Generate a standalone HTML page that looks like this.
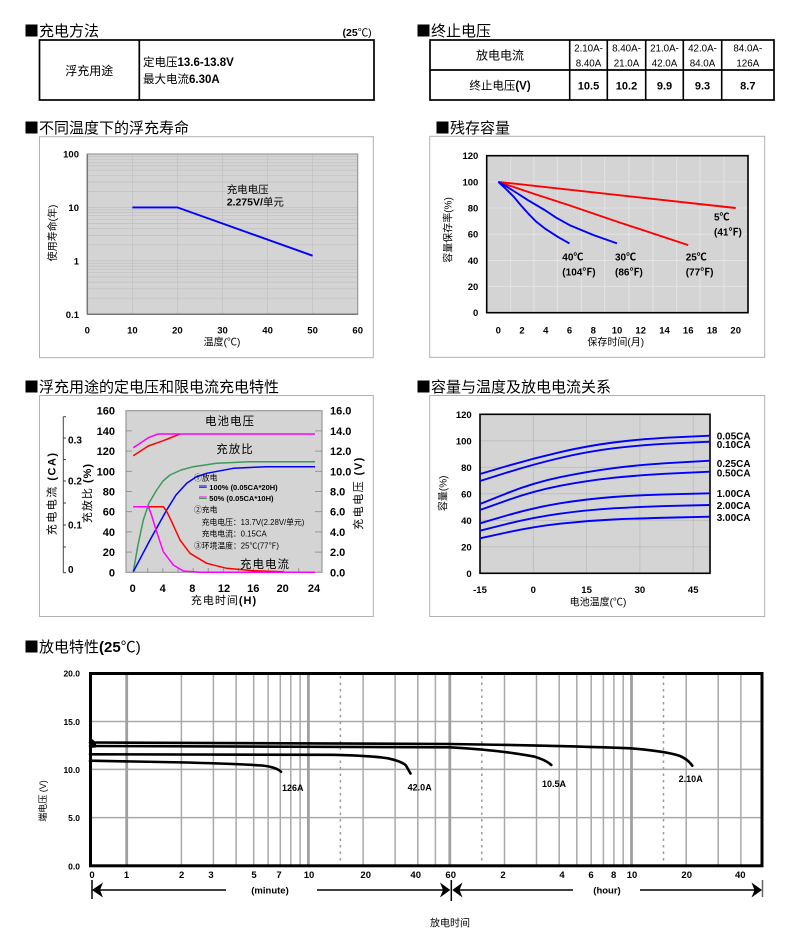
<!DOCTYPE html>
<html><head><meta charset="utf-8"><style>
html,body{margin:0;padding:0;background:#fff;}
svg{display:block;}
text{font-family:"Liberation Sans","Noto Sans CJK SC",sans-serif;fill:#000;}
.b{font-weight:bold;}
.sq{font-family:"Noto Sans CJK SC","WenQuanYi Zen Hei",sans-serif;}
</style></head><body>
<svg width="788" height="945" viewBox="0 0 788 945" xmlns="http://www.w3.org/2000/svg">
<rect width="788" height="945" fill="#fff"/>

<!-- ===== Titles ===== -->
<text x="24" y="36" font-size="15"><tspan class="sq">■</tspan>充电方法</text>
<text x="371.7" y="36" font-size="10.5" text-anchor="end"><tspan class="b">(25</tspan>℃)</text>
<text x="416" y="36" font-size="15"><tspan class="sq">■</tspan>终止电压</text>
<text x="24" y="133" font-size="15"><tspan class="sq">■</tspan>不同温度下的浮充寿命</text>
<text x="435" y="133" font-size="15"><tspan class="sq">■</tspan>残存容量</text>
<text x="24" y="392" font-size="15"><tspan class="sq">■</tspan>浮充用途的定电压和限电流充电特性</text>
<text x="416" y="392" font-size="15"><tspan class="sq">■</tspan>容量与温度及放电电流关系</text>
<text x="24" y="652" font-size="15"><tspan class="sq">■</tspan>放电特性<tspan class="b">(25</tspan>℃)</text>

<!-- ===== Table 1 ===== -->
<rect x="39.5" y="40" width="334.5" height="60" fill="none" stroke="#000" stroke-width="1.7"/>
<line x1="139.3" y1="40" x2="139.3" y2="100" stroke="#000" stroke-width="1.7"/>
<text x="89.3" y="75" font-size="12" text-anchor="middle">浮充用途</text>
<text x="143" y="66" font-size="11.5">定电压<tspan class="b">13.6-13.8V</tspan></text>
<text x="143" y="83" font-size="11.5">最大电流<tspan class="b">6.30A</tspan></text>

<!-- ===== Table 2 ===== -->
<rect x="430" y="40" width="344" height="60" fill="none" stroke="#000" stroke-width="1.7"/>
<line x1="430" y1="70" x2="774" y2="70" stroke="#000" stroke-width="1.7"/>
<g stroke="#000" stroke-width="1.6">
<line x1="569.7" y1="40" x2="569.7" y2="100"/>
<line x1="607.3" y1="40" x2="607.3" y2="100"/>
<line x1="645.7" y1="40" x2="645.7" y2="100"/>
<line x1="683.3" y1="40" x2="683.3" y2="100"/>
<line x1="721.7" y1="40" x2="721.7" y2="100"/>
</g>
<text x="500" y="59.5" font-size="12" text-anchor="middle">放电电流</text>
<g font-size="9.8" text-anchor="middle">
<text x="588.5" y="51.5">2.10A-</text><text x="588.5" y="66.5">8.40A</text>
<text x="626.5" y="51.5">8.40A-</text><text x="626.5" y="66.5">21.0A</text>
<text x="664.5" y="51.5">21.0A-</text><text x="664.5" y="66.5">42.0A</text>
<text x="702.5" y="51.5">42.0A-</text><text x="702.5" y="66.5">84.0A</text>
<text x="747.8" y="51.5">84.0A-</text><text x="747.8" y="66.5">126A</text>
</g>
<text x="500" y="89.5" font-size="11.5" text-anchor="middle">终止电压<tspan class="b">(V)</tspan></text>
<g font-size="11" class="b" text-anchor="middle">
<text x="588.5" y="89.5">10.5</text>
<text x="626.5" y="89.5">10.2</text>
<text x="664.5" y="89.5">9.9</text>
<text x="702.5" y="89.5">9.3</text>
<text x="747.8" y="89.5">8.7</text>
</g>

<!-- ===== Float life chart ===== -->
<rect x="39.5" y="136.7" width="333.8" height="221" fill="none" stroke="#b0b0b0" stroke-width="1"/>
<rect x="87.3" y="154" width="270.4" height="160.3" fill="#d4d4d4"/>
<g stroke="#c0c0c0" stroke-width="0.7">
<line x1="87.3" x2="357.7" y1="298.2" y2="298.2"/><line x1="87.3" x2="357.7" y1="288.8" y2="288.8"/>
<line x1="87.3" x2="357.7" y1="282.1" y2="282.1"/><line x1="87.3" x2="357.7" y1="277.0" y2="277.0"/>
<line x1="87.3" x2="357.7" y1="272.7" y2="272.7"/><line x1="87.3" x2="357.7" y1="269.2" y2="269.2"/>
<line x1="87.3" x2="357.7" y1="266.1" y2="266.1"/><line x1="87.3" x2="357.7" y1="263.3" y2="263.3"/>
<line x1="87.3" x2="357.7" y1="260.9" y2="260.9"/>
<line x1="87.3" x2="357.7" y1="244.8" y2="244.8"/><line x1="87.3" x2="357.7" y1="235.4" y2="235.4"/>
<line x1="87.3" x2="357.7" y1="228.7" y2="228.7"/><line x1="87.3" x2="357.7" y1="223.5" y2="223.5"/>
<line x1="87.3" x2="357.7" y1="219.3" y2="219.3"/><line x1="87.3" x2="357.7" y1="215.7" y2="215.7"/>
<line x1="87.3" x2="357.7" y1="212.6" y2="212.6"/><line x1="87.3" x2="357.7" y1="209.9" y2="209.9"/>
<line x1="87.3" x2="357.7" y1="207.4" y2="207.4"/>
<line x1="87.3" x2="357.7" y1="191.4" y2="191.4"/><line x1="87.3" x2="357.7" y1="182.0" y2="182.0"/>
<line x1="87.3" x2="357.7" y1="175.3" y2="175.3"/><line x1="87.3" x2="357.7" y1="170.1" y2="170.1"/>
<line x1="87.3" x2="357.7" y1="165.9" y2="165.9"/><line x1="87.3" x2="357.7" y1="162.3" y2="162.3"/>
<line x1="87.3" x2="357.7" y1="159.2" y2="159.2"/><line x1="87.3" x2="357.7" y1="156.5" y2="156.5"/>
<line x1="132.4" x2="132.4" y1="154" y2="314.3"/><line x1="177.4" x2="177.4" y1="154" y2="314.3"/>
<line x1="222.5" x2="222.5" y1="154" y2="314.3"/><line x1="267.6" x2="267.6" y1="154" y2="314.3"/>
<line x1="312.6" x2="312.6" y1="154" y2="314.3"/>
</g>
<rect x="87.3" y="154" width="270.4" height="160.3" fill="none" stroke="#999" stroke-width="1.2"/>
<line x1="87.3" y1="154" x2="87.3" y2="314.3" stroke="#777" stroke-width="1.5"/>
<line x1="87.3" y1="314.3" x2="357.7" y2="314.3" stroke="#777" stroke-width="1.5"/>
<polyline points="132.4,207.4 177.4,207.4 312.6,255.7" fill="none" stroke="#0000ff" stroke-width="1.9"/>
<text x="226.7" y="193" font-size="10.5">充电电压</text>
<text x="226.7" y="205.5" font-size="10.5"><tspan class="b">2.275V/</tspan>单元</text>
<g font-size="9.5" class="b" text-anchor="end">
<text x="79" y="157.5">100</text><text x="79" y="211">10</text>
<text x="79" y="264.4">1</text><text x="79" y="317.8">0.1</text>
</g>
<g font-size="9.5" class="b" text-anchor="middle">
<text x="87.3" y="333.5">0</text><text x="132.4" y="333.5">10</text><text x="177.4" y="333.5">20</text>
<text x="222.5" y="333.5">30</text><text x="267.6" y="333.5">40</text><text x="312.6" y="333.5">50</text>
<text x="357.7" y="333.5">60</text>
</g>
<text x="222" y="345.5" font-size="10" text-anchor="middle">温度(℃)</text>
<text transform="translate(56,233) rotate(-90)" font-size="10" text-anchor="middle">使用寿命(年)</text>

<!-- ===== Residual capacity ===== -->
<rect x="429.7" y="136.3" width="335" height="221" fill="none" stroke="#b0b0b0" stroke-width="1"/>
<rect x="486.7" y="155.7" width="261.3" height="157" fill="#d4d4d4"/>
<g stroke="#e6e6e6" stroke-width="0.8">
<line x1="510.7" x2="510.7" y1="155.7" y2="312.7"/><line x1="534" x2="534" y1="155.7" y2="312.7"/>
<line x1="557.3" x2="557.3" y1="155.7" y2="312.7"/><line x1="581.3" x2="581.3" y1="155.7" y2="312.7"/>
<line x1="604.7" x2="604.7" y1="155.7" y2="312.7"/><line x1="629" x2="629" y1="155.7" y2="312.7"/>
<line x1="653" x2="653" y1="155.7" y2="312.7"/><line x1="676.7" x2="676.7" y1="155.7" y2="312.7"/>
<line x1="700" x2="700" y1="155.7" y2="312.7"/><line x1="724" x2="724" y1="155.7" y2="312.7"/>
<line x1="486.7" x2="748" y1="286.5" y2="286.5"/><line x1="486.7" x2="748" y1="260.4" y2="260.4"/>
<line x1="486.7" x2="748" y1="234.2" y2="234.2"/><line x1="486.7" x2="748" y1="208.0" y2="208.0"/>
<line x1="486.7" x2="748" y1="181.9" y2="181.9"/>
</g>
<rect x="486.7" y="155.7" width="261.3" height="157" fill="none" stroke="#000" stroke-width="1.6"/>
<g fill="none" stroke-width="1.9" stroke-linejoin="round">
<polyline stroke="#ff0000" points="498.3,181.9 735.7,208.0"/>
<polyline stroke="#ff0000" points="498.3,181.9 533,193.5 569.5,205.4 617,221.6 688.2,245.1"/>
<polyline stroke="#0000ff" points="498.3,181.9 505,185.5 513.7,191.0 528,200.2 544.6,210.0 556,217.6 569.5,225.1 593.3,235.0 617,243.4"/>
<polyline stroke="#0000ff" points="498.3,181.9 505,188 513.7,196.7 521,205.5 528,213.3 536,221.5 544.6,228.3 557.7,236.8 569.5,243.4"/>
</g>
<g font-size="10" class="b">
<text x="714" y="220.5">5℃</text><text x="714" y="235.5">(41℉)</text>
<text x="562.3" y="260.5">40℃</text><text x="562.3" y="275.5">(104℉)</text>
<text x="615" y="260.5">30℃</text><text x="615" y="275.5">(86℉)</text>
<text x="685.7" y="260.5">25℃</text><text x="685.7" y="275.5">(77℉)</text>
</g>
<g font-size="9.5" class="b" text-anchor="end">
<text x="478.3" y="159.2">120</text><text x="478.3" y="185.4">100</text><text x="478.3" y="211.5">80</text>
<text x="478.3" y="237.7">60</text><text x="478.3" y="263.9">40</text><text x="478.3" y="290">20</text>
<text x="478.3" y="316.2">0</text>
</g>
<g font-size="9.5" class="b" text-anchor="middle">
<text x="498.3" y="333.5">0</text><text x="522" y="333.5">2</text><text x="545.8" y="333.5">4</text>
<text x="569.5" y="333.5">6</text><text x="593.3" y="333.5">8</text><text x="617" y="333.5">10</text>
<text x="640.7" y="333.5">12</text><text x="664.5" y="333.5">14</text><text x="688.2" y="333.5">16</text>
<text x="712" y="333.5">18</text><text x="735.7" y="333.5">20</text>
</g>
<text x="615.7" y="345.5" font-size="10" text-anchor="middle">保存时间(月)</text>
<text transform="translate(451.5,230) rotate(-90)" font-size="10" text-anchor="middle">容量保存率(%)</text>

<!-- ===== Charge characteristics ===== -->
<rect x="39.5" y="395.5" width="333.8" height="221" fill="none" stroke="#b0b0b0" stroke-width="1"/>
<rect x="126" y="410.7" width="196" height="161.6" fill="#d4d4d4"/>
<rect x="126" y="410.7" width="196" height="161.6" fill="none" stroke="#999" stroke-width="1.2"/>
<g stroke="#888" stroke-width="0.8">
<line x1="126" x2="132" y1="430.9" y2="430.9"/><line x1="126" x2="132" y1="451.1" y2="451.1"/>
<line x1="126" x2="132" y1="471.3" y2="471.3"/><line x1="126" x2="132" y1="491.5" y2="491.5"/>
<line x1="126" x2="132" y1="511.7" y2="511.7"/><line x1="126" x2="132" y1="531.9" y2="531.9"/>
<line x1="126" x2="132" y1="552.1" y2="552.1"/>
<line x1="315" x2="322" y1="430.9" y2="430.9"/><line x1="315" x2="322" y1="451.1" y2="451.1"/>
<line x1="315" x2="322" y1="471.3" y2="471.3"/><line x1="315" x2="322" y1="491.5" y2="491.5"/>
<line x1="315" x2="322" y1="511.7" y2="511.7"/><line x1="315" x2="322" y1="531.9" y2="531.9"/>
<line x1="315" x2="322" y1="552.1" y2="552.1"/>
<line x1="147.8" x2="147.8" y1="568" y2="572.3"/><line x1="162.9" x2="162.9" y1="568" y2="572.3"/>
<line x1="178" x2="178" y1="568" y2="572.3"/><line x1="193.1" x2="193.1" y1="568" y2="572.3"/>
<line x1="208.2" x2="208.2" y1="568" y2="572.3"/><line x1="223.3" x2="223.3" y1="568" y2="572.3"/>
<line x1="238.4" x2="238.4" y1="568" y2="572.3"/><line x1="253.5" x2="253.5" y1="568" y2="572.3"/>
<line x1="268.6" x2="268.6" y1="568" y2="572.3"/><line x1="283.7" x2="283.7" y1="568" y2="572.3"/>
<line x1="298.8" x2="298.8" y1="568" y2="572.3"/>
</g>
<!-- CA axis -->
<line x1="63.3" y1="416.7" x2="63.3" y2="572.7" stroke="#444" stroke-width="1"/>
<g stroke="#444" stroke-width="1">
<line x1="63.3" x2="66" y1="416.7" y2="416.7"/><line x1="63.3" x2="66" y1="438" y2="438"/>
<line x1="63.3" x2="66" y1="459.5" y2="459.5"/><line x1="63.3" x2="66" y1="481" y2="481"/>
<line x1="63.3" x2="66" y1="503" y2="503"/><line x1="63.3" x2="66" y1="525" y2="525"/>
<line x1="63.3" x2="66" y1="547" y2="547"/><line x1="63.3" x2="66" y1="572.7" y2="572.7"/>
</g>
<g font-size="10" class="b">
<text x="68" y="443.5">0.3</text><text x="68" y="484.5">0.2</text>
<text x="68" y="528.5">0.1</text><text x="68" y="573">0</text>
</g>
<!-- curves -->
<g fill="none" stroke-width="1.5" stroke-linejoin="round">
<polyline stroke="#3a9a5a" points="133.3,571.7 138,545 143.3,520 149,503 156.7,490 163,481 170,475 181,470 193.3,466.7 216.7,463.3 250,461.7 315,461.7"/>
<polyline stroke="#0000ff" points="133.3,571.7 150,540 166.7,510 176,495 186.7,483.3 196,477 206.7,473.3 233.3,468.3 266.7,466.7 315,466.7"/>
<polyline stroke="#ff0000" points="133.3,506.7 163.3,506.7 167,512 171.7,521.7 180,540 190,553.3 206.7,563.3 226.7,568.3 253.3,570.7 283.3,571.7"/>
<polyline stroke="#ff00ff" points="133.3,506.7 148.3,506.7 151.5,515 155,526.7 163.3,551.7 173.3,565 183.3,571 200,572.3 315,572.3"/>
<polyline stroke="#ff0000" points="133.3,455.7 148.3,446 163.3,440.7 180,434"/>
<polyline stroke="#ff00ff" points="133.3,447.7 148.3,437.7 158,434 315,434"/>
</g>
<text x="230" y="425" font-size="11.5" text-anchor="middle" letter-spacing="1">电池电压</text>
<text x="235" y="453" font-size="11.5" text-anchor="middle" letter-spacing="1">充放比</text>
<text x="265" y="568" font-size="11.5" text-anchor="middle" letter-spacing="1">充电电流</text>
<g font-size="7.8">
<text x="194" y="480.5">①放电</text>
<line x1="199" x2="206.7" y1="486" y2="486" stroke="#0000ff" stroke-width="1"/>
<line x1="199" x2="206.7" y1="487.5" y2="487.5" stroke="#ff0000" stroke-width="1"/>
<text x="209.3" y="490" class="b" font-size="7.5">100% (0.05CA*20H)</text>
<line x1="199" x2="206.7" y1="497" y2="497" stroke="#ff00ff" stroke-width="1"/>
<line x1="199" x2="206.7" y1="498.5" y2="498.5" stroke="#3a9a5a" stroke-width="1"/>
<text x="209.3" y="501" class="b" font-size="7.5">50% (0.05CA*10H)</text>
<text x="194" y="512.5">②充电</text>
<text x="201.7" y="524.8">充电电压：13.7V(2.28V/单元)</text>
<text x="201.7" y="536.5">充电电流：0.15CA</text>
<text x="194" y="548.3">③环境温度：25℃(77℉)</text>
</g>
<g font-size="11" class="b" text-anchor="end">
<text x="115" y="414.7">160</text><text x="115" y="434.9">140</text><text x="115" y="455.1">120</text>
<text x="115" y="475.3">100</text><text x="115" y="495.5">80</text><text x="115" y="515.7">60</text>
<text x="115" y="535.9">40</text><text x="115" y="556.1">20</text><text x="115" y="576.3">0</text>
</g>
<g font-size="11" class="b">
<text x="330" y="414.7">16.0</text><text x="330" y="434.9">14.0</text><text x="330" y="455.1">12.0</text>
<text x="330" y="475.3">10.0</text><text x="330" y="495.5">8.0</text><text x="330" y="515.7">6.0</text>
<text x="330" y="535.9">4.0</text><text x="330" y="556.1">2.0</text><text x="330" y="576.3">0.0</text>
</g>
<g font-size="11" class="b" text-anchor="middle">
<text x="132.7" y="592">0</text><text x="162.7" y="592">4</text><text x="192.3" y="592">8</text>
<text x="224" y="592">12</text><text x="253.3" y="592">16</text><text x="282.7" y="592">20</text>
<text x="314" y="592">24</text>
</g>
<text x="224" y="604" font-size="11" text-anchor="middle" letter-spacing="1">充电时间<tspan class="b">(H)</tspan></text>
<text transform="translate(55.5,493.3) rotate(-90)" font-size="11" text-anchor="middle" letter-spacing="1.5">充电电流 <tspan class="b">(CA)</tspan></text>
<text transform="translate(91,493) rotate(-90)" font-size="11" text-anchor="middle" letter-spacing="1">充放比 <tspan class="b">(%)</tspan></text>
<text transform="translate(362,493) rotate(-90)" font-size="11" text-anchor="middle" letter-spacing="1.5">充电电压 <tspan class="b">(V)</tspan></text>

<!-- ===== Capacity vs temperature ===== -->
<rect x="429.7" y="395.5" width="335" height="221" fill="none" stroke="#b0b0b0" stroke-width="1"/>
<rect x="480" y="414.3" width="230" height="159" fill="#d4d4d4"/>
<g stroke="#bcbcbc" stroke-width="0.8">
<line x1="533.3" x2="533.3" y1="414.3" y2="573.3"/><line x1="586.6" x2="586.6" y1="414.3" y2="573.3"/>
<line x1="639.9" x2="639.9" y1="414.3" y2="573.3"/><line x1="693.2" x2="693.2" y1="414.3" y2="573.3"/>
<line x1="480" x2="710" y1="546.8" y2="546.8"/><line x1="480" x2="710" y1="520.3" y2="520.3"/>
<line x1="480" x2="710" y1="493.8" y2="493.8"/><line x1="480" x2="710" y1="467.3" y2="467.3"/>
<line x1="480" x2="710" y1="440.8" y2="440.8"/>
</g>
<rect x="480" y="414.3" width="230" height="159" fill="none" stroke="#000" stroke-width="1.6"/>
<g fill="none" stroke="#0000ff" stroke-width="1.9">
<path d="M480,474 L506.65,466.15 Q533.3,458.3 559.95,452.15 Q586.6,446 613.25,442.5 Q639.9,439 674.95,437.35 L710,435.7"/>
<path d="M480,481 L506.65,472.65 Q533.3,464.3 559.95,458 Q586.6,451.7 613.25,448.35 Q639.9,445 674.95,443.35 L710,441.7"/>
<path d="M480,504 L506.65,493.35 Q533.3,482.7 559.95,477.2 Q586.6,471.7 613.25,468.2 Q639.9,464.7 674.95,462.7 L710,460.7"/>
<path d="M480,510 L506.65,500.5 Q533.3,491 559.95,485.85 Q586.6,480.7 613.25,477.85 Q639.9,475 674.95,473.35 L710,471.7"/>
<path d="M480,523.3 L506.65,515.5 Q533.3,507.7 559.95,503.35 Q586.6,499 613.25,497 Q639.9,495 674.95,494.15 L710,493.3"/>
<path d="M480,530.7 L506.65,524 Q533.3,517.3 559.95,513.65 Q586.6,510 613.25,508.35 Q639.9,506.7 674.95,505.85 L710,505"/>
<path d="M480,538.3 L506.65,532.5 Q533.3,526.7 559.95,523.7 Q586.6,520.7 613.25,519.5 Q639.9,518.3 674.95,517.5 L710,516.7"/>
</g>
<g font-size="10" class="b">
<text x="716.7" y="439.5">0.05CA</text><text x="716.7" y="448">0.10CA</text>
<text x="716.7" y="467">0.25CA</text><text x="716.7" y="476.5">0.50CA</text>
<text x="716.7" y="497">1.00CA</text><text x="716.7" y="508.8">2.00CA</text>
<text x="716.7" y="521">3.00CA</text>
</g>
<g font-size="9.5" class="b" text-anchor="end">
<text x="471.7" y="417.8">120</text><text x="471.7" y="444.3">100</text><text x="471.7" y="470.8">80</text>
<text x="471.7" y="497.3">60</text><text x="471.7" y="523.8">40</text><text x="471.7" y="550.3">20</text>
<text x="471.7" y="576.8">0</text>
</g>
<g font-size="9.5" class="b" text-anchor="middle">
<text x="480" y="593">-15</text><text x="533.3" y="593">0</text><text x="586.6" y="593">15</text>
<text x="639.9" y="593">30</text><text x="693.2" y="593">45</text>
</g>
<text x="598" y="605.5" font-size="10" text-anchor="middle">电池温度(℃)</text>
<text transform="translate(446.5,493.3) rotate(-90)" font-size="10" text-anchor="middle">容量(%)</text>

<!-- ===== Discharge characteristics ===== -->
<g stroke="#a9a9a9" stroke-width="1.5">
<line x1="90" x2="762" y1="721.5" y2="721.5"/><line x1="90" x2="762" y1="769.4" y2="769.4"/>
<line x1="90" x2="762" y1="817.6" y2="817.6"/>
<line x1="181.4" x2="181.4" y1="673" y2="866"/><line x1="213.4" x2="213.4" y1="673" y2="866"/>
<line x1="236.1" x2="236.1" y1="673" y2="866"/><line x1="253.7" x2="253.7" y1="673" y2="866"/>
<line x1="268.1" x2="268.1" y1="673" y2="866"/><line x1="280.3" x2="280.3" y1="673" y2="866"/>
<line x1="290.8" x2="290.8" y1="673" y2="866"/><line x1="300.1" x2="300.1" y1="673" y2="866"/>
<line x1="363.1" x2="363.1" y1="673" y2="866"/><line x1="395.1" x2="395.1" y1="673" y2="866"/>
<line x1="417.8" x2="417.8" y1="673" y2="866"/><line x1="435.4" x2="435.4" y1="673" y2="866"/>
<line x1="504.5" x2="504.5" y1="673" y2="866"/><line x1="536.5" x2="536.5" y1="673" y2="866"/>
<line x1="559.2" x2="559.2" y1="673" y2="866"/><line x1="576.8" x2="576.8" y1="673" y2="866"/>
<line x1="591.2" x2="591.2" y1="673" y2="866"/><line x1="603.4" x2="603.4" y1="673" y2="866"/>
<line x1="613.9" x2="613.9" y1="673" y2="866"/><line x1="623.2" x2="623.2" y1="673" y2="866"/>
<line x1="686.2" x2="686.2" y1="673" y2="866"/><line x1="718.2" x2="718.2" y1="673" y2="866"/>
<line x1="740.9" x2="740.9" y1="673" y2="866"/>
</g>
<g stroke="#a0a0a0" stroke-width="2.8">
<line x1="126.7" x2="126.7" y1="673" y2="866"/><line x1="308.4" x2="308.4" y1="673" y2="866"/>
<line x1="449.8" x2="449.8" y1="673" y2="866"/><line x1="631.5" x2="631.5" y1="673" y2="866"/>
</g>
<g stroke="#9a9a9a" stroke-width="1.5" stroke-dasharray="2.5,4">
<line x1="340.4" x2="340.4" y1="676" y2="864"/><line x1="481.8" x2="481.8" y1="676" y2="864"/>
<line x1="663.5" x2="663.5" y1="676" y2="864"/>
</g>
<rect x="90.5" y="673.5" width="671.5" height="192.3" fill="none" stroke="#000" stroke-width="3"/>
<g fill="none" stroke="#000" stroke-width="2.6" stroke-linecap="round">
<path d="M90,742.5 L449.8,744 Q560,745.5 630.7,748.3 Q668,751.5 680,756 Q688,759.5 692.3,765.7"/>
<path d="M90,746 L449.8,747.3 Q500,750 534.7,756.7 Q546,760 551.3,765"/>
<path d="M90,754.3 L330,754.8 Q370,755.5 388,758.3 Q402,761.5 406,765.5 L410.5,773.5"/>
<path d="M90,760.7 L187,762.5 Q240,764 262,765.5 Q276,767 281,771.7"/>
</g>
<polygon points="90,739 93,739.5 96,743 96,747.5 90,748" fill="#000"/>
<g font-size="9" class="b" text-anchor="middle">
<text x="292.7" y="791">126A</text>
<text x="419.7" y="790.5">42.0A</text>
<text x="554" y="787">10.5A</text>
<text x="690.7" y="782">2.10A</text>
</g>
<g font-size="8.5" class="b" text-anchor="end">
<text x="80" y="676.5">20.0</text><text x="80" y="725">15.0</text><text x="80" y="772.8">10.0</text>
<text x="80" y="821">5.0</text><text x="80" y="869.3">0.0</text>
</g>
<text transform="translate(46,801) rotate(-90)" font-size="9" text-anchor="middle">端电压 (V)</text>
<g font-size="9.5" class="b" text-anchor="middle">
<text x="92" y="878">0</text><text x="126.5" y="878">1</text><text x="181.7" y="878">2</text>
<text x="211" y="878">3</text><text x="254" y="878">5</text><text x="279" y="878">7</text>
<text x="309" y="878">10</text><text x="365.7" y="878">20</text><text x="415.7" y="878">40</text>
<text x="450.7" y="878">60</text><text x="503" y="878">2</text><text x="562" y="878">4</text>
<text x="591" y="878">6</text><text x="613.7" y="878">8</text><text x="632" y="878">10</text>
<text x="686.7" y="878">20</text><text x="740.3" y="878">40</text>
</g>
<!-- arrows -->
<g stroke="#000" stroke-width="1.5">
<line x1="92" x2="92" y1="880" y2="899"/>
<line x1="94" x2="226" y1="890" y2="890"/>
<line x1="317" x2="446" y1="890" y2="890"/>
<line x1="451.3" x2="451.3" y1="880" y2="901"/>
<line x1="456" x2="573" y1="890" y2="890"/>
<line x1="640" x2="758" y1="890" y2="890"/>
<line x1="762.5" x2="762.5" y1="880" y2="897" stroke="#666"/>
</g>
<g fill="#000">
<polygon points="92,890 103,882.5 100,890 103,897.5"/>
<polygon points="450.3,890 440,882.5 443,890 440,897.5"/>
<polygon points="452.3,890 462.5,882.5 459.5,890 462.5,897.5"/>
<polygon points="762,890 751.5,882.5 754.5,890 751.5,897.5"/>
</g>
<text x="270" y="893.5" font-size="9.5" class="b" text-anchor="middle">(minute)</text>
<text x="607" y="893.5" font-size="9.5" class="b" text-anchor="middle">(hour)</text>
<text x="450" y="926.5" font-size="10" text-anchor="middle">放电时间</text>
</svg>
</body></html>
